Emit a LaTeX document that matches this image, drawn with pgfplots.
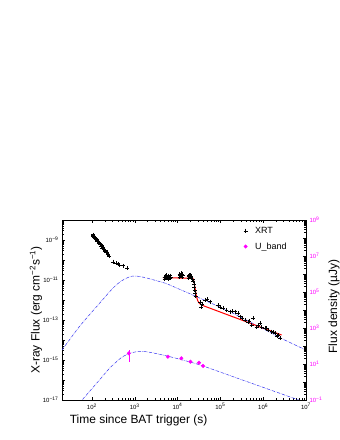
\documentclass[border=0pt]{standalone}
\usepackage{fontspec}
\setmainfont{Liberation Sans}
\usepackage{pgfplots}
\pgfplotsset{compat=1.18}
\definecolor{curveblue}{RGB}{50,50,240}
\definecolor{mag}{RGB}{255,0,255}
\newcommand{\tp}[1]{10\textsuperscript{#1}}
\begin{document}
\begin{tikzpicture}
\begin{axis}[
 at={(62bp,40bp)}, anchor=south west,
 scale only axis, width=244bp, height=180bp,
 xmode=log, ymode=log,
 xmin=20, xmax=1e7, ymin=1e-17, ymax=1e-8,
 tick align=inside, ytick pos=left, xtick pos=both,
 major tick length=3bp, minor tick length=1.6bp,
 every tick/.style={black, line width=0.4pt},
 axis line style={line width=0.6pt},
 xtick={1e2,1e3,1e4,1e5,1e6,1e7},
 xticklabels={\tp{2},\tp{3},\tp{4},\tp{5},\tp{6},\tp{7}},
 ytick={1e-17,1e-16,1e-15,1e-14,1e-13,1e-12,1e-11,1e-10,1e-9,1e-8},
 yticklabels={\tp{−17},,\tp{−15},,\tp{−13},,\tp{−11},,\tp{−9},},
 ticklabel style={font=\fontsize{6}{7}\selectfont},
 xlabel={Time since BAT trigger (s)},
 ylabel={X-ray Flux (erg cm\textsuperscript{−2}s\textsuperscript{−1})},
 label style={font=\fontsize{12}{14}\selectfont},
 xlabel style={at={(axis description cs:0.314,-0.111)}, anchor=center},
 ylabel style={at={(axis description cs:-0.107,0.5)}, anchor=center},
]
% upper model curve
\addplot[curveblue, densely dash dot, line width=0.5pt, smooth] coordinates {
(20,3.16e-15) (31.6,1.20e-14) (50.9,4.68e-14) (89.1,1.91e-13) (150,6.76e-13)
(251,2.40e-12) (369,5.62e-12) (562,1.07e-11) (904,1.58e-11) (1585,1.38e-11)
(3162,9.33e-12) (5470,6.61e-12) (1e4,3.80e-12) (27540,1.48e-12) (2.0e5,2.14e-13)
(2.69e6,1.20e-14) (1e7,3.16e-15)};
% XRT
\addplot[only marks, mark=+, black, mark size=2pt, line width=0.45pt] coordinates {
(104.7,1.85e-9) (106.5,1.70e-9) (108.4,1.60e-9) (110.3,1.45e-9) (112.2,1.55e-9) (114.2,1.40e-9) (116.1,1.28e-9) (120.2,1.30e-9)
(122.3,1.12e-9) (124.5,1.05e-9) (128.8,1.08e-9) (131.0,9.6e-10) (133.4,8.8e-10) (138.0,9.0e-10) (142.9,7.3e-10)
(147.9,7.5e-10) (150.5,6.8e-10) (153.1,6.1e-10) (158.5,6.3e-10) (164.1,5.0e-10) (169.8,5.2e-10)
(175.8,4.1e-10) (182.0,4.2e-10) (188.4,3.45e-10) (195.0,3.5e-10) (201.8,2.85e-10)
(208.9,2.95e-10) (216.3,2.35e-10) (223.9,2.4e-10) (231.7,1.95e-10) (239.9,2.0e-10)
(248.3,1.62e-10) (257.0,1.58e-10)
(307,8.2e-11) (369,6.8e-11) (407,6.0e-11) (441,5.6e-11) (526,5.2e-11) (667,4.1e-11)
(5012,1.12e-11) (5012,1.45e-11) (5248,1.58e-11) (5495,1.26e-11) (5495,1.70e-11) (5754,1.41e-11)
(6026,1.15e-11) (6026,1.62e-11) (6310,1.32e-11) (6607,1.66e-11) (6607,1.20e-11) (6918,1.41e-11)
(11220,1.45e-11) (11220,1.95e-11) (11610,1.66e-11) (12020,2.2e-11) (12020,1.55e-11)
(12450,1.85e-11) (12880,1.45e-11) (12880,2.0e-11) (13180,1.66e-11)
(18200,1.58e-11) (18200,1.25e-11) (18840,1.70e-11) (19500,1.35e-11) (19500,1.8e-11)
(20180,1.45e-11) (20890,1.25e-11) (20890,1.6e-11)
(22390,1.1e-11) (23440,8.9e-12) (23990,6.3e-12) (24550,4.5e-12) (25120,3.16e-12) (25700,2.24e-12) (26300,1.58e-12)
(33110,7.9e-13) (35480,4.5e-13) (38020,6.3e-13) (43650,1.0e-12) (48980,1.12e-12)
(56490,8.22e-13) (88310,5.62e-13) (1.0e5,4.47e-13) (115600,3.85e-13) (139000,3.16e-13)
(166000,2.60e-13) (1.9e5,2.8e-13) (217300,2.60e-13) (260000,2.16e-13) (284400,1.46e-13)
(3.16e5,1.26e-13) (372400,1.0e-13) (445700,8.2e-14) (4.79e5,8.9e-14) (534600,5.6e-14)
(583400,1.22e-13) (699800,4.6e-14) (7.59e5,5.6e-14) (837500,6.8e-14) (918300,4.6e-14)
(1.096e6,3.85e-14) (1.2e6,4.0e-14) (1.309e6,3.16e-14) (1.574e6,2.6e-14) (1.74e6,2.5e-14)
(1.879e6,2.16e-14) (2.09e6,1.58e-14) (2.244e6,1.78e-14) (2.46e6,1.22e-14)};
% red fit
\addplot[red, line width=1pt] coordinates {
(4550,1.30e-11) (22910,1.22e-11) (23990,8.9e-12) (25700,3.98e-12) (27540,1.58e-12)
(29510,9.3e-13) (32360,6.8e-13) (36310,5.6e-13) (2.692e6,1.78e-14)};
\end{axis}
\begin{axis}[
 at={(62bp,40bp)}, anchor=south west,
 scale only axis, width=244bp, height=180bp,
 xmode=log, ymode=log,
 xmin=20, xmax=1e7, ymin=0.1, ymax=1e9,
 axis x line=none, axis y line*=right,
 tick align=inside,
 major tick length=3bp, minor tick length=1.6bp,
 every tick/.style={black, line width=0.4pt},
 axis line style={line width=0.6pt},
 ytick={1e-1,1,1e1,1e2,1e3,1e4,1e5,1e6,1e7,1e8,1e9},
 yticklabels={\tp{−1},,\tp{1},,\tp{3},,\tp{5},,\tp{7},,\tp{9}},
 yticklabel style={font=\fontsize{6}{7}\selectfont, text=mag},
 ylabel={Flux density (µJy)},
 ylabel style={font=\fontsize{12}{14}\selectfont, at={(axis description cs:1.115,0.52)}, anchor=center, rotate=0},
 legend style={at={(axis description cs:0.72,0.985)}, anchor=north west, draw=none, fill=none,
   font=\fontsize{9}{10}\selectfont, row sep=4bp},
 legend cell align=left,
 legend image code/.code={\path (0cm,0cm) (0.42cm,0cm); \draw[#1] plot coordinates {(0.16cm,0cm)};},
]
\addlegendimage{only marks, mark=+, black, mark size=2pt}
\addlegendentry{XRT}
\addplot[curveblue, densely dash dot, line width=0.5pt, smooth, forget plot] coordinates {
(50.1,0.063) (61.0,0.110) (100,0.427) (158.5,1.51) (257,5.75) (398,15.1) (525,25.7)
(794,39.8) (1084,47.9) (1413,50.1) (1862,47.9) (3162,38.0) (6531,25.7) (15850,14.8)
(39360,7.76) (3.16e5,1.33) (6.03e6,0.110) (1e7,0.071)};
\addplot[only marks, mark=*, mag, mark size=1.8pt,
  error bars/.cd, y dir=both, y explicit, error mark=none, error bar style={mag, line width=0.6pt}]
 coordinates {
(728,39.3) += (0,21) -= (0,25.8)
(5957,25.5) +- (0,0)
(12270,20.7) +- (0,0)
(19950,13.4) +- (0,0)
(31620,11.7) +- (0,0)
(39360,7.8) +- (0,0)};
\addlegendentry{U\_band}
\end{axis}
\pgfresetboundingbox
\path[use as bounding box] (0,0) rectangle (340bp,440bp);
\end{tikzpicture}
\end{document}
